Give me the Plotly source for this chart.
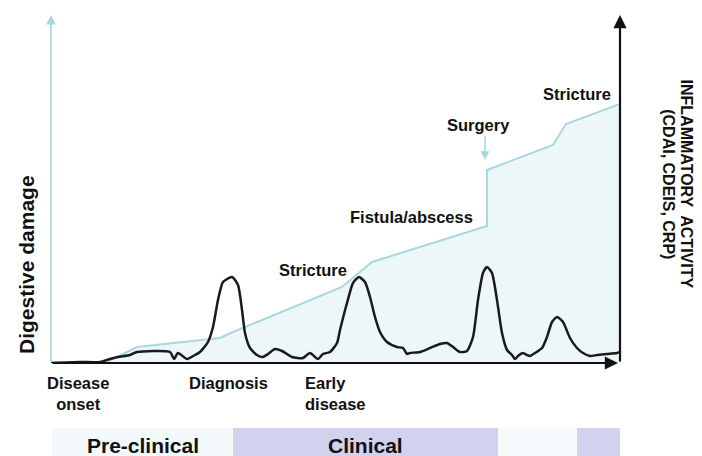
import plotly.graph_objects as go

# time runs left to right in arbitrary units; both curves share an arbitrary 0-348 scale
damage_t = [0, 54, 86, 169, 182, 291, 321, 436, 436, 502, 515, 569]
damage_v = [0, 0, 16, 25, 31, 76, 101, 137, 193, 218, 239, 259]

activity_t = [0, 29, 49, 59, 67, 79, 86, 119, 123, 127, 136, 144, 149, 157, 162, 167,
              172, 181, 187, 191, 194, 199, 206, 212, 217, 224, 231, 241, 252, 259, 267,
              272, 279, 286, 289, 296, 302, 308, 314, 319, 324, 329, 336, 346, 352, 356,
              359, 369, 379, 389, 396, 402, 409, 416, 422, 427, 432, 436, 441, 446, 451,
              456, 461, 464, 467, 472, 476, 479, 484, 491, 496, 501, 506, 512, 519, 526,
              532, 539, 546, 556, 566, 569]
activity_v = [0, 1, 1, 4, 6, 8, 11, 11, 4, 10, 4, 8, 11, 21, 36, 63,
              81, 86, 78, 53, 30, 15, 8, 6, 9, 14, 12, 6, 5, 10, 4,
              9, 11, 20, 33, 60, 80, 86, 81, 66, 46, 31, 21, 16, 15, 9,
              10, 11, 15, 19, 20, 16, 11, 12, 26, 63, 90, 96, 90, 63, 30,
              13, 8, 4, 7, 10, 8, 7, 10, 15, 26, 41, 46, 41, 25, 15,
              10, 7, 8, 9, 10, 11]

milestones = ["Disease<br>onset", "Diagnosis", "Early<br>disease"]
milestone_t = [27, 177, 252]
milestone_align = ["center", "center", "left"]

events = ["Stricture", "Fistula/abscess", "Surgery", "Stricture"]
event_t = [262, 360, 427, 526]
event_v = [93, 146, 238, 269]

phases = ["Pre-clinical", "Clinical", "", ""]
phase_start = [1, 182, 447, 526]
phase_end = [182, 447, 526, 569]
phase_colors = ["#f3f9fb", "#d2d2ef", "#f5fafc", "#d2d2ef"]

TEAL = "#a6d8dd"
FONT = "Arial, Liberation Sans, sans-serif"
H = 348

fig = go.Figure()

fig.add_trace(go.Scatter(
    x=damage_t, y=damage_v, mode="lines",
    line=dict(color=TEAL, width=2),
    fill="tozeroy", fillcolor="rgba(225,241,245,0.6)",
    hoverinfo="skip",
))

fig.add_trace(go.Scatter(
    x=activity_t, y=activity_v, mode="lines",
    line=dict(color="#1a1a1a", width=2.5, shape="spline", smoothing=0.6),
    hoverinfo="skip",
))

# phase bands below the time axis
for x0, x1, c, name in zip(phase_start, phase_end, phase_colors, phases):
    fig.add_shape(type="rect", xref="x", yref="paper", x0=x0, x1=x1,
                  y0=-0.187, y1=-0.30, fillcolor=c, line_width=0, layer="below")
    if name:
        fig.add_annotation(x=(x0 + x1) / 2, y=-0.236, xref="x", yref="paper",
                           xanchor="center", yanchor="middle",
                           text=f"<b>{name}</b>", showarrow=False,
                           font=dict(size=21, color="#111", family=FONT))

# axes drawn as arrows
arrows = [
    (0, 0, 0, H, TEAL, 1.6),
    (0, 0, 567, 0, "#111", 2.2),
    (569, 0, 569, H, "#111", 2.2),
]
for x0, y0, x1, y1, c, w in arrows:
    fig.add_annotation(x=x1, y=y1, ax=x0, ay=y0, xref="x", yref="y", axref="x", ayref="y",
                       text="", showarrow=True, arrowhead=2, arrowsize=1.2,
                       arrowwidth=w, arrowcolor=c)

# surgery pointer
fig.add_annotation(x=434, y=203, ax=434, ay=228, xref="x", yref="y", axref="x", ayref="y",
                   text="", showarrow=True, arrowhead=2, arrowsize=1.1,
                   arrowwidth=1.6, arrowcolor=TEAL)

for t, v, label in zip(event_t, event_v, events):
    fig.add_annotation(x=t, y=v, xref="x", yref="y", xanchor="center", yanchor="middle",
                       text=f"<b>{label}</b>", showarrow=False,
                       font=dict(size=16.5, color="#111", family=FONT))

for t, label, al in zip(milestone_t, milestones, milestone_align):
    fig.add_annotation(x=t, y=-0.027, xref="x", yref="paper", xanchor=al, yanchor="top",
                       text=f"<b>{label}</b>", showarrow=False, align=al,
                       font=dict(size=16.5, color="#111", family=FONT))

fig.add_annotation(x=-0.042, y=0.282, xref="paper", yref="paper",
                   xanchor="center", yanchor="middle",
                   text="<b>Digestive damage</b>", textangle=-90, showarrow=False,
                   font=dict(size=21, color="#111", family=FONT))
fig.add_annotation(x=1.117, y=0.514, xref="paper", yref="paper",
                   xanchor="center", yanchor="middle",
                   text="<b>INFLAMMATORY  ACTIVITY</b>", textangle=90, showarrow=False,
                   font=dict(size=16, color="#111", family=FONT))
fig.add_annotation(x=1.086, y=0.514, xref="paper", yref="paper",
                   xanchor="center", yanchor="middle",
                   text="<b>(CDAI, CDEIS, CRP)</b>", textangle=90, showarrow=False,
                   font=dict(size=16, color="#111", family=FONT))

# page body adds an 8px margin, so the figure is 8px smaller than the window
fig.update_layout(
    width=694, height=448,
    margin=dict(l=43, r=82, t=7, b=93),
    paper_bgcolor="white", plot_bgcolor="white",
    showlegend=False,
    xaxis=dict(range=[0, 569], visible=False, fixedrange=True),
    yaxis=dict(range=[0, H], visible=False, fixedrange=True),
)

fig.write_html("out.html")
